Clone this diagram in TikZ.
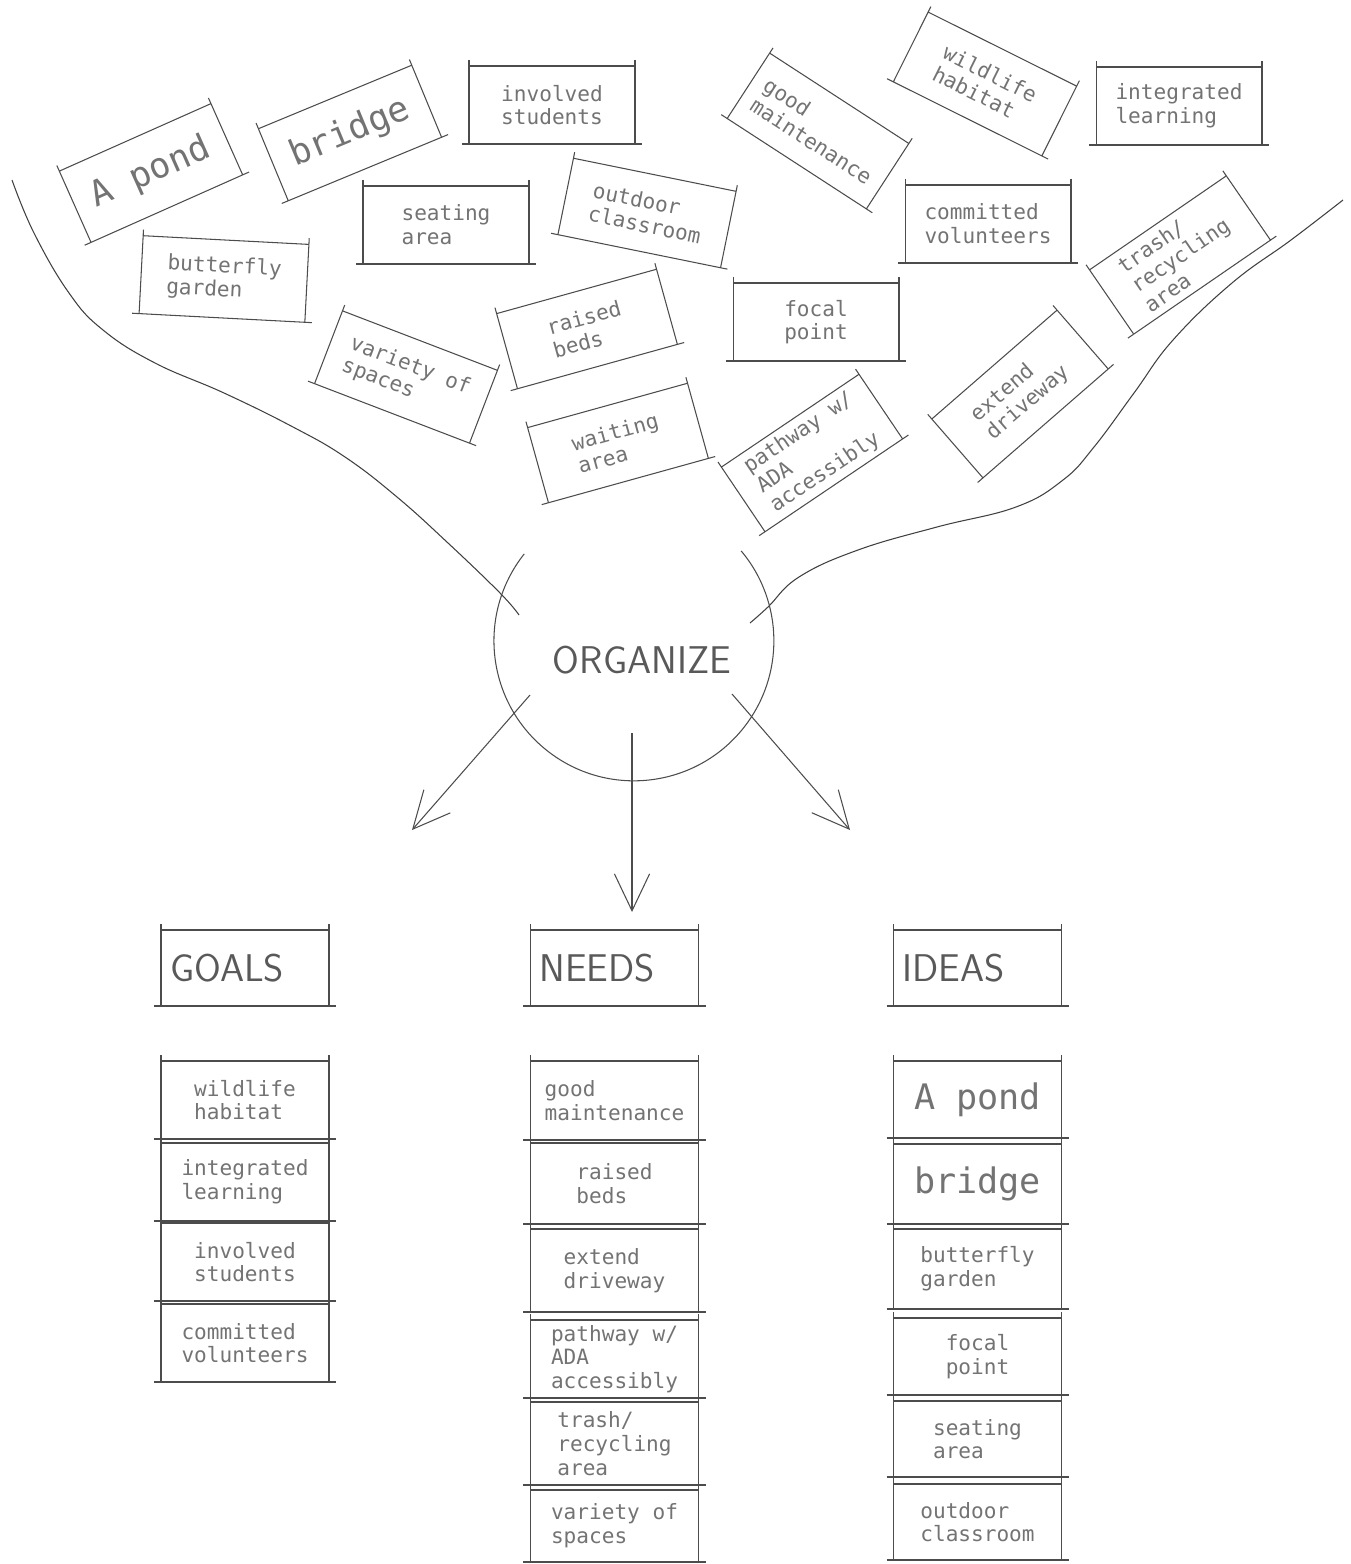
\documentclass[tikz,border=0pt]{standalone}
\usepackage{fontspec}
\newfontfamily\cardfont{DejaVu Sans Mono}
\usetikzlibrary{calc,arrows.meta}

\tikzset{
	edge/.style={black!70, line width=0.6pt},
	card/.style={rectangle, minimum width=3.32cm, minimum height=1.56cm, inner sep=2pt, outer sep=0pt,
		align=left, text=black!55, font=\cardfont\fontsize{12}{13.5}\selectfont,
		append after command={\pgfextra{\edef\cardname{\tikzlastnode}
			\draw[edge] ($(\cardname.north west)!-3.5pt!(\cardname.south west)$) -- (\cardname.south west)
				($(\cardname.north east)!-3.5pt!(\cardname.south east)$) -- (\cardname.south east)
				(\cardname.north west) -- (\cardname.north east)
				($(\cardname.south west)!-4pt!(\cardname.south east)$) -- ($(\cardname.south east)!-4pt!(\cardname.south west)$);}}},
	big/.style={font=\cardfont\fontsize{20}{22}\selectfont},
	cell/.style={card, minimum width=3.36cm, minimum height=#1},
	head/.style={card, minimum width=3.36cm, minimum height=1.52cm, text width=3.0cm, inner xsep=0.18cm,
		text=black!65, font=\sffamily\fontsize{22}{24}\selectfont},
	title/.style={text=black!65, font=\sffamily\fontsize{22}{24}\selectfont},
	funnel/.style={black!75, line width=0.6pt},
	flow/.style={edge, -{Straight Barb[length=21pt,width=20pt]}},
}

\begin{document}
\begin{tikzpicture}[x=0.02cm, y=-0.02cm]
	\useasboundingbox (0,0) rectangle (1350,1564);

	% the two sides of the funnel
	\draw[funnel] plot[smooth, tension=0.7] coordinates {(12,180) (34,233) (69,293) (103,330) (155,363) (224,393) (293,427) (345,457) (397,497) (448,543) (500,593) (519,615)};
	\draw[funnel] plot[smooth, tension=0.7] coordinates {(1343,200) (1291,240) (1232,283) (1173,340) (1134,393) (1094,447) (1063,480) (1016,507) (937,527) (858,550) (799,577) (768,607) (750,623)};

	% loose ideas
	\node[card, big, rotate=24] (pond) at (151,173) {A pond};
	\node[card, big, rotate=22.5] (bridge) at (350,133) {bridge};
	\node[card] (students) at (552,105) {involved\\students};
	\node[card] (seating) at (446,225) {seating\\area};
	\node[card, rotate=-3] (butterfly) at (224,279) {butterfly\\garden};
	\node[card, rotate=-11.5] (classroom) at (647,213) {outdoor\\classroom};
	\node[card, rotate=-21] (variety) at (406,377) {variety of\\spaces};
	\node[card, rotate=15.5] (beds) at (587,329) {raised\\beds};
	\node[card, rotate=15.5] (waiting) at (618,443) {waiting\\area};
	\node[card, rotate=-33] (maintenance) at (818,131) {good\\maintenance};
	\node[card, rotate=-26.5] (habitat) at (985,84) {wildlife\\habitat};
	\node[card] (learning) at (1179,106) {integrated\\learning};
	\node[card] (volunteers) at (988,224) {committed\\volunteers};
	\node[card] (focal) at (816,322) {focal\\point};
	\node[card, rotate=34.5] (trash) at (1180,255) {trash/\\recycling\\area};
	\node[card, rotate=41] (driveway) at (1020,394) {extend\\driveway};
	\node[card, rotate=34] (pathway) at (812,453) {pathway w/\\ADA\\accessibly};

	% organize
	\node[circle, minimum size=5.6cm, inner sep=0pt, outer sep=0pt] (organize) at (633,642) {};
	\draw[edge] (organize.141.6) arc[start angle=141.6, end angle=400, radius=2.8cm];
	\node[title] (organize text) at (642,660) {ORGANIZE};

	\coordinate (goals from) at (530,695);
	\coordinate (goals to) at (412,830);
	\coordinate (needs from) at (632,733);
	\coordinate (needs to) at (632,912);
	\coordinate (ideas from) at (732,694);
	\coordinate (ideas to) at (850,830);
	\draw[flow] (goals from) -- (goals to);
	\draw[flow] (needs from) -- (needs to);
	\draw[flow] (ideas from) -- (ideas to);

	% sorted lists
	\node[head] (goals) at (245,968) {GOALS};
	\node[head] (needs) at (614.5,968) {NEEDS};
	\node[head] (ideas) at (977.5,968) {IDEAS};

	\node[cell=1.56cm] (g1) at (245,1100) {wildlife\\habitat};
	\node[cell=1.56cm] (g2) at (245,1182) {integrated\\learning};
	\node[cell=1.56cm] (g3) at (245,1262) {involved\\students};
	\node[cell=1.56cm] (g4) at (245,1343) {committed\\volunteers};

	\node[cell=1.58cm] (n1) at (614.5,1100.5) {good\\maintenance};
	\node[cell=1.62cm] (n2) at (614.5,1183.5) {raised\\beds};
	\node[cell=1.66cm] (n3) at (614.5,1270.5) {extend\\driveway};
	\node[cell=1.56cm] (n4) at (614.5,1359) {pathway w/\\ADA\\accessibly};
	\node[cell=1.66cm] (n5) at (614.5,1443.5) {trash/\\recycling\\area};
	\node[cell=1.44cm] (n6) at (614.5,1526) {variety of\\spaces};

	\node[cell=1.54cm, big] (i1) at (977.5,1099.5) {A pond};
	\node[cell=1.6cm, big] (i2) at (977.5,1184) {bridge};
	\node[cell=1.6cm] (i3) at (977.5,1269) {butterfly\\garden};
	\node[cell=1.54cm] (i4) at (977.5,1356.5) {focal\\point};
	\node[cell=1.52cm] (i5) at (977.5,1439) {seating\\area};
	\node[cell=1.52cm] (i6) at (977.5,1522) {outdoor\\classroom};
\end{tikzpicture}
\end{document}
